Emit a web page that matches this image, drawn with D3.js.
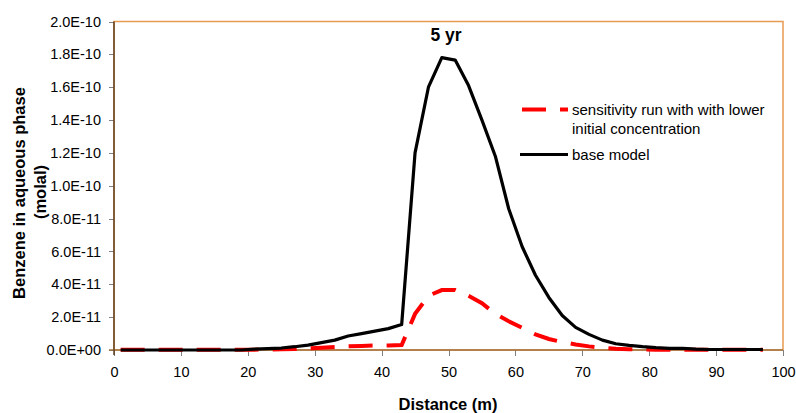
<!DOCTYPE html>
<html lang="en">
<head>
<meta charset="utf-8">
<script src="https://d3js.org/d3.v7.min.js"></script>
<title>Benzene 5 yr</title>
<style type="text/css">
body {
	margin: 0;
	background-color: #ffffff;
	font-family: "Liberation Sans", Arial, sans-serif;
}
.axis text {
	font: 14.5px "Liberation Sans", Arial, sans-serif;
	fill: #000;
}
.axis line {
	stroke: #808080;
	shape-rendering: crispEdges;
}
.legend text {
	font: 15px "Liberation Sans", Arial, sans-serif;
}
.title {
	font: bold 16.5px "Liberation Sans", Arial, sans-serif;
}
</style>
</head>
<body>
<script type="text/javascript">
// distance (m), one cell every 2 m
var distance = [1,3,5,7,9,11,13,15,17,19,21,23,25,27,29,31,33,35,37,39,41,43,45,47,49,
                51,53,55,57,59,61,63,65,67,69,71,73,75,77,79,81,83,85,87,89,91,93,95,97];

// base model, molal
var baseModel = [0,0,0,0,0,0,0,0,0,0,0.05e-11,0.08e-11,0.12e-11,0.2e-11,0.3e-11,0.45e-11,0.6e-11,
                 0.85e-11,1.0e-11,1.15e-11,1.3e-11,1.55e-11,12.0e-11,16.0e-11,17.8e-11,17.65e-11,16.1e-11,
                 14.0e-11,11.8e-11,8.6e-11,6.3e-11,4.55e-11,3.2e-11,2.1e-11,1.38e-11,0.95e-11,0.6e-11,
                 0.38e-11,0.28e-11,0.2e-11,0.14e-11,0.1e-11,0.1e-11,0.05e-11,0.03e-11,0.03e-11,0.03e-11,
                 0.03e-11,0.03e-11];

// sensitivity run with lower initial concentration, molal
var lowerInit = [0.02e-11,0.02e-11,0.02e-11,0.02e-11,0.02e-11,0.02e-11,0.02e-11,0.02e-11,0.02e-11,
                 0.02e-11,0.02e-11,0.03e-11,0.04e-11,0.06e-11,0.1e-11,0.14e-11,0.18e-11,0.22e-11,
                 0.25e-11,0.27e-11,0.28e-11,0.3e-11,2.2e-11,3.3e-11,3.65e-11,3.65e-11,3.3e-11,2.85e-11,
                 2.2e-11,1.75e-11,1.35e-11,0.95e-11,0.67e-11,0.48e-11,0.34e-11,0.22e-11,0.14e-11,
                 0.08e-11,0.05e-11,0.03e-11,0.02e-11,0.01e-11,0.01e-11,0.01e-11,0.01e-11,0.01e-11,
                 0.01e-11,0.01e-11,0.01e-11];

var xTicks = [0,10,20,30,40,50,60,70,80,90,100];
var yTicks = [0,2e-11,4e-11,6e-11,8e-11,1e-10,1.2e-10,1.4e-10,1.6e-10,1.8e-10,2e-10];

var width = 796, height = 413;
var plotL = 114, plotR = 783, plotT = 21.5, plotB = 350;

var svg = d3.select("body")
  .append("svg")
  .attr("width", width)
  .attr("height", height);

var x = d3.scaleLinear().domain([0, 100]).range([plotL, plotR]);
var y = d3.scaleLinear().domain([0, 2e-10]).range([plotB, plotT]);

// plot frame (orange top / right)
svg.append("rect")
  .attr("x", plotL).attr("y", plotT)
  .attr("width", plotR - plotL).attr("height", plotB - plotT)
  .style("fill", "none")
  .style("stroke", "#e89a50")
  .style("stroke-width", 1.5);

// y axis
var yAxis = d3.axisLeft(y)
  .tickValues(yTicks)
  .tickSize(5)
  .tickPadding(8)
  .tickFormat(function(d) {
    if (d === 0) return "0.0E+00";
    var e = Math.floor(Math.log10(d) + 1e-9);
    var m = d / Math.pow(10, e);
    return m.toFixed(1) + "E-" + (-e);
  });

var gy = svg.append("g")
  .attr("class", "y axis")
  .attr("transform", "translate(" + plotL + ",0)")
  .call(yAxis);
gy.select(".domain").remove();

// x axis
var xAxis = d3.axisBottom(x)
  .tickValues(xTicks)
  .tickSize(6)
  .tickPadding(11)
  .tickFormat(d3.format("d"));

var gx = svg.append("g")
  .attr("class", "x axis")
  .attr("transform", "translate(0," + plotB + ")")
  .call(xAxis);
gx.select(".domain").remove();

// axis lines
svg.append("line")
  .attr("x1", plotL - 5).attr("x2", plotR)
  .attr("y1", plotB).attr("y2", plotB)
  .style("stroke", "#a0703c").style("stroke-width", 1.5);
svg.append("line")
  .attr("x1", plotL).attr("x2", plotL)
  .attr("y1", plotT).attr("y2", plotB + 5)
  .style("stroke", "#5e3f20").style("stroke-width", 1.5);

var line = d3.line()
  .x(function(d) { return x(d[0]); })
  .y(function(d) { return y(d[1]); });

var redData = distance.map(function(d, i) { return [d, lowerInit[i]]; });
var blackData = distance.map(function(d, i) { return [d, baseModel[i]]; });

svg.append("path")
  .attr("d", line(redData))
  .style("fill", "none")
  .style("stroke", "#ff0000")
  .style("stroke-width", 4)
  .style("stroke-dasharray", "24,14");

svg.append("path")
  .attr("d", line(blackData))
  .style("fill", "none")
  .style("stroke", "#000")
  .style("stroke-width", 3.2)
  .style("stroke-linejoin", "round");

// "5 yr" label
svg.append("text")
  .attr("x", 446).attr("y", 41)
  .attr("text-anchor", "middle")
  .style("font", "bold 17.5px 'Liberation Sans', Arial, sans-serif")
  .text("5 yr");

// legend
var legend = svg.append("g").attr("class", "legend");
legend.append("line")
  .attr("x1", 522).attr("x2", 568)
  .attr("y1", 109.5).attr("y2", 109.5)
  .style("stroke", "#ff0000").style("stroke-width", 4)
  .style("stroke-dasharray", "24,14");
legend.append("text")
  .attr("x", 572).attr("y", 115)
  .text("sensitivity run with with lower");
legend.append("text")
  .attr("x", 572).attr("y", 134)
  .text("initial concentration");
legend.append("line")
  .attr("x1", 520).attr("x2", 568)
  .attr("y1", 154.5).attr("y2", 154.5)
  .style("stroke", "#000").style("stroke-width", 3.2);
legend.append("text")
  .attr("x", 572).attr("y", 160)
  .text("base model");

// axis titles
svg.append("text")
  .attr("class", "title")
  .attr("transform", "translate(25,193) rotate(-90)")
  .attr("text-anchor", "middle")
  .text("Benzene in aqueous phase");
svg.append("text")
  .attr("class", "title")
  .attr("transform", "translate(46,192) rotate(-90)")
  .attr("text-anchor", "middle")
  .text("(molal)");
svg.append("text")
  .attr("class", "title")
  .attr("x", 448).attr("y", 410)
  .attr("text-anchor", "middle")
  .text("Distance (m)");
</script>
</body>
</html>
